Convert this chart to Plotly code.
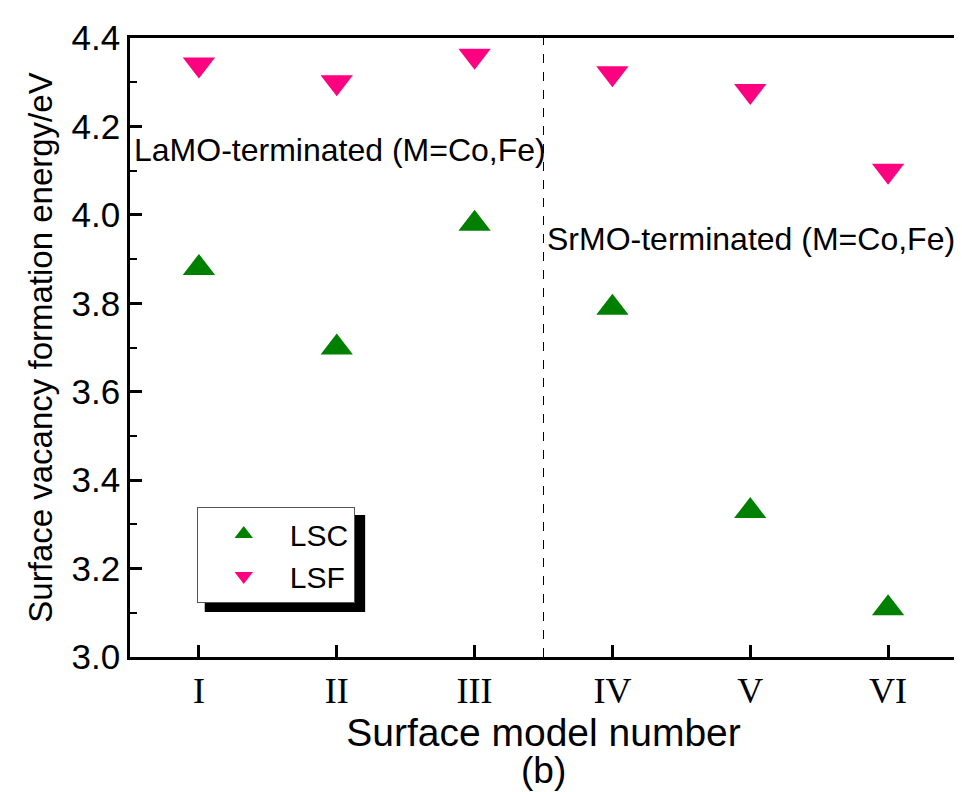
import plotly.graph_objects as go

models = [1, 2, 3, 4, 5, 6]
model_labels = ["I", "II", "III", "IV", "V", "VI"]
lsc = [3.88, 3.70, 3.98, 3.79, 3.33, 3.11]
lsf = [4.34, 4.30, 4.36, 4.32, 4.28, 4.10]
y_ticks = [3.0, 3.2, 3.4, 3.6, 3.8, 4.0, 4.2, 4.4]

FONT = "Arial, Liberation Sans, sans-serif"
PW, PH = 830, 619  # plot area size in px

fig = go.Figure()
fig.add_trace(go.Scatter(x=models, y=lsc, mode="markers", name="LSC",
                         marker=dict(symbol="triangle-up", size=28, color="#008000")))
fig.add_trace(go.Scatter(x=models, y=lsf, mode="markers", name="LSF",
                         marker=dict(symbol="triangle-down", size=28, color="#FF0080")))

fig.add_shape(type="line", xref="x", yref="paper", x0=3.5, x1=3.5, y0=0, y1=1,
              line=dict(color="black", width=1, dash="dash"))
# legend shadow
fig.add_shape(type="rect", xref="paper", yref="paper",
              x0=(205-130)/PW, x1=(366-130)/PW, y0=(657-612)/PH, y1=(657-515)/PH,
              fillcolor="black", line=dict(width=0), layer="below")

fig.add_annotation(text="LaMO-terminated (M=Co,Fe)", xref="paper", yref="y",
                   x=0.002, y=4.146, xanchor="left", yanchor="middle", showarrow=False,
                   font=dict(family=FONT, size=32, color="black"))
fig.add_annotation(text="SrMO-terminated (M=Co,Fe)", xref="paper", yref="y",
                   x=1.0, y=3.946, xanchor="right", yanchor="middle", showarrow=False,
                   font=dict(family=FONT, size=32, color="black"))
fig.add_annotation(text="(b)", xref="paper", yref="paper", x=0.5, y=-(748-657)/PH,
                   xanchor="center", yanchor="top", showarrow=False,
                   font=dict(family=FONT, size=37, color="black"))

fig.update_layout(
    width=954, height=784,
    margin=dict(l=122, r=2, t=30, b=135),
    plot_bgcolor="white", paper_bgcolor="white",
    font=dict(family=FONT, color="black"),
    showlegend=True,
    legend=dict(x=(197-130)/PW, y=(657-507)/PH, xanchor="left", yanchor="top",
                bgcolor="white", bordercolor="#555", borderwidth=1,
                font=dict(size=30, family=FONT),
                itemsizing="trace", itemwidth=82, tracegroupgap=0),
)
fig.update_xaxes(range=[0.5, 6.5], tickvals=models, ticktext=model_labels,
                 ticks="inside", ticklen=12, tickwidth=2.5, tickcolor="black",
                 showline=True, linewidth=2.5, linecolor="black", mirror=True,
                 showgrid=False, zeroline=False,
                 tickfont=dict(family="Liberation Serif, Times New Roman, serif", size=36),
                 title=dict(text="Surface model number", font=dict(size=39), standoff=0))
fig.update_yaxes(range=[3.0, 4.4], tickvals=y_ticks, tickformat=".1f",
                 ticks="inside", ticklen=12, tickwidth=2.5, tickcolor="black",
                 minor=dict(dtick=0.1, ticks="inside", ticklen=7, tickwidth=2, tickcolor="black"),
                 showline=True, linewidth=2.5, linecolor="black", mirror=True,
                 showgrid=False, zeroline=False,
                 tickfont=dict(size=35),
                 title=dict(text="Surface vacancy formation energy/eV", font=dict(size=33), standoff=10))

fig.write_html("out.html")
